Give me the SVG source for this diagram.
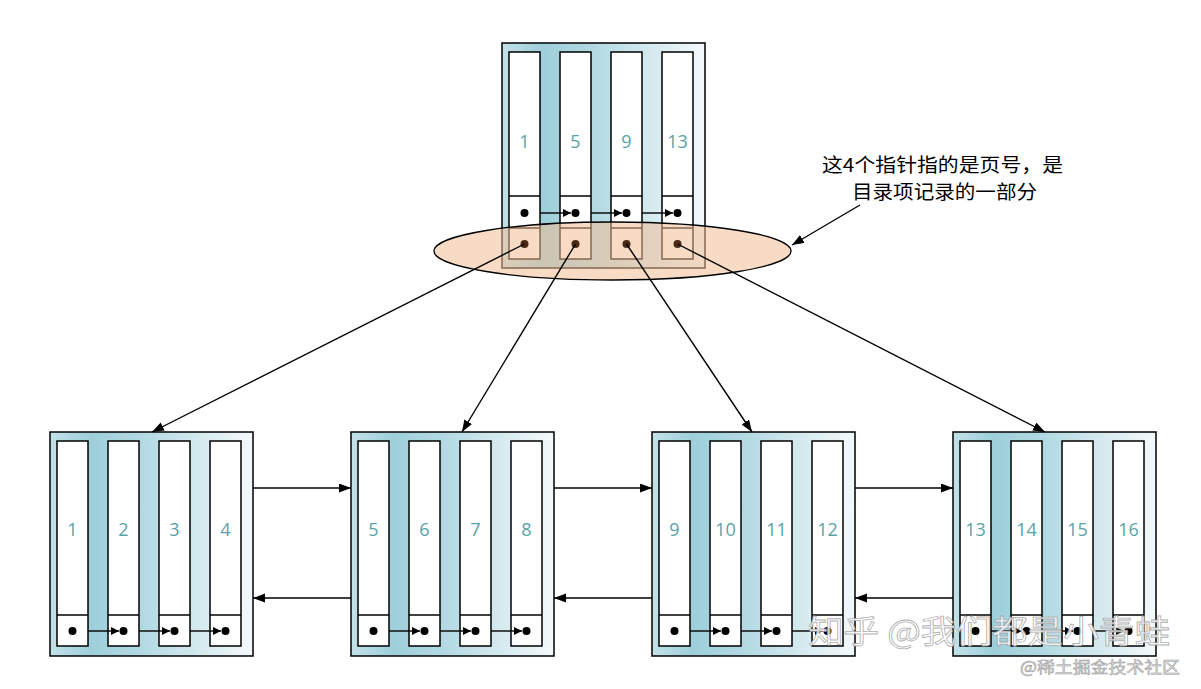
<svg xmlns="http://www.w3.org/2000/svg" width="1201" height="689" viewBox="0 0 1201 689">
<defs>
<linearGradient id="bg" x1="0" y1="0" x2="1" y2="0">
<stop offset="0" stop-color="#C3E1E8"/>
<stop offset="0.2" stop-color="#9DCFDA"/>
<stop offset="0.45" stop-color="#B2D9E2"/>
<stop offset="0.72" stop-color="#D3E9EE"/>
<stop offset="1" stop-color="#F4F9FB"/>
</linearGradient>
<marker id="big" markerUnits="userSpaceOnUse" markerWidth="13" markerHeight="10" refX="12" refY="4.5" orient="auto"><path d="M0,0 L12,4.5 L0,9 z" fill="#000"/></marker>
<marker id="small" markerUnits="userSpaceOnUse" markerWidth="9" markerHeight="9" refX="8" refY="4" orient="auto"><path d="M0,0 L8,4 L0,8 z" fill="#000"/></marker>
<g id="col-top"><rect x="0" y="0" width="31" height="207" class="col"/><line x1="0" y1="144" x2="31" y2="144" class="ln"/><line x1="0" y1="176" x2="31" y2="176" class="ln"/></g>
<g id="col-bot"><rect x="0" y="0" width="31" height="205" class="col"/><line x1="0" y1="174" x2="31" y2="174" class="ln"/></g>
</defs>
<style>
.frame{fill:url(#bg);stroke:#000;stroke-width:1.5}
.col{fill:#fff;stroke:#000;stroke-width:1.5}
.ln{stroke:#000;stroke-width:1.5}
.num{font-family:"Open Sans","Liberation Sans",sans-serif;font-size:18px;fill:#5AA2A6;text-anchor:middle}
.dot{fill:#000}
.pdot{fill:#4A2A14}
.lst{stroke:#000;stroke-width:1.4;fill:none;marker-end:url(#small)}
.conn{stroke:#000;stroke-width:1.4;fill:none;marker-end:url(#big)}
.note{font-family:"Noto Sans CJK SC",sans-serif;font-size:19px;fill:#000}
</style>
<rect width="1201" height="689" fill="#fff"/>

<g id="node-top">
<rect class="frame" x="502" y="43" width="203" height="225"/>
<use href="#col-top" x="509" y="52"/><use href="#col-top" x="560" y="52"/><use href="#col-top" x="611" y="52"/><use href="#col-top" x="662" y="52"/>
<text class="num" x="524.5" y="147.5">1</text><text class="num" x="575.5" y="147.5">5</text><text class="num" x="626.5" y="147.5">9</text><text class="num" x="677.5" y="147.5">13</text>
<circle class="dot" cx="524.5" cy="213" r="4"/><circle class="dot" cx="575.5" cy="213" r="4"/><circle class="dot" cx="626.5" cy="213" r="4"/><circle class="dot" cx="677.5" cy="213" r="4"/>
<path class="lst" d="M540,213 H571"/><path class="lst" d="M591,213 H622"/><path class="lst" d="M642,213 H673"/>
</g>

<g id="pointer-highlight">
<ellipse cx="612.5" cy="251" rx="178.5" ry="29" fill="#F0BE95" fill-opacity="0.55" stroke="#000" stroke-width="1.3"/>
<circle class="pdot" cx="524.5" cy="244" r="4"/><circle class="pdot" cx="575.5" cy="244" r="4"/><circle class="pdot" cx="626.5" cy="244" r="4"/><circle class="pdot" cx="677.5" cy="244" r="4"/>
</g>

<g id="node-1">
<rect class="frame" x="50" y="432" width="203" height="224"/>
<use href="#col-bot" x="57" y="441"/><use href="#col-bot" x="108" y="441"/><use href="#col-bot" x="159" y="441"/><use href="#col-bot" x="210" y="441"/>
<text class="num" x="72.5" y="535.5">1</text><text class="num" x="123.5" y="535.5">2</text><text class="num" x="174.5" y="535.5">3</text><text class="num" x="225.5" y="535.5">4</text>
<circle class="dot" cx="72.5" cy="631" r="4"/><circle class="dot" cx="123.5" cy="631" r="4"/><circle class="dot" cx="174.5" cy="631" r="4"/><circle class="dot" cx="225.5" cy="631" r="4"/>
<path class="lst" d="M88,631 H119"/><path class="lst" d="M139,631 H170"/><path class="lst" d="M190,631 H221"/>
</g>

<g id="node-2">
<rect class="frame" x="351" y="432" width="203" height="224"/>
<use href="#col-bot" x="358" y="441"/><use href="#col-bot" x="409" y="441"/><use href="#col-bot" x="460" y="441"/><use href="#col-bot" x="511" y="441"/>
<text class="num" x="373.5" y="535.5">5</text><text class="num" x="424.5" y="535.5">6</text><text class="num" x="475.5" y="535.5">7</text><text class="num" x="526.5" y="535.5">8</text>
<circle class="dot" cx="373.5" cy="631" r="4"/><circle class="dot" cx="424.5" cy="631" r="4"/><circle class="dot" cx="475.5" cy="631" r="4"/><circle class="dot" cx="526.5" cy="631" r="4"/>
<path class="lst" d="M389,631 H420"/><path class="lst" d="M440,631 H471"/><path class="lst" d="M491,631 H522"/>
</g>

<g id="node-3">
<rect class="frame" x="652" y="432" width="203" height="224"/>
<use href="#col-bot" x="659" y="441"/><use href="#col-bot" x="710" y="441"/><use href="#col-bot" x="761" y="441"/><use href="#col-bot" x="812" y="441"/>
<text class="num" x="674.5" y="535.5">9</text><text class="num" x="725.5" y="535.5">10</text><text class="num" x="776.5" y="535.5">11</text><text class="num" x="827.5" y="535.5">12</text>
<circle class="dot" cx="674.5" cy="631" r="4"/><circle class="dot" cx="725.5" cy="631" r="4"/><circle class="dot" cx="776.5" cy="631" r="4"/><circle class="dot" cx="827.5" cy="631" r="4"/>
<path class="lst" d="M690,631 H721"/><path class="lst" d="M741,631 H772"/><path class="lst" d="M792,631 H823"/>
</g>

<g id="node-4">
<rect class="frame" x="953" y="432" width="203" height="224"/>
<use href="#col-bot" x="960" y="441"/><use href="#col-bot" x="1011" y="441"/><use href="#col-bot" x="1062" y="441"/><use href="#col-bot" x="1113" y="441"/>
<text class="num" x="975.5" y="535.5">13</text><text class="num" x="1026.5" y="535.5">14</text><text class="num" x="1077.5" y="535.5">15</text><text class="num" x="1128.5" y="535.5">16</text>
<circle class="dot" cx="975.5" cy="631" r="4"/><circle class="dot" cx="1026.5" cy="631" r="4"/><circle class="dot" cx="1077.5" cy="631" r="4"/><circle class="dot" cx="1128.5" cy="631" r="4"/>
<path class="lst" d="M991,631 H1022"/><path class="lst" d="M1042,631 H1073"/><path class="lst" d="M1093,631 H1124"/>
</g>

<g id="connectors">
<path class="conn" d="M524.5,244 L152,432"/>
<path class="conn" d="M575.5,244 L462,432"/>
<path class="conn" d="M626.5,244 L752,432"/>
<path class="conn" d="M677.5,244 L1045,432"/>
<path class="conn" d="M253,488 H351"/><path class="conn" d="M351,598 H253"/>
<path class="conn" d="M554,488 H652"/><path class="conn" d="M652,598 H554"/>
<path class="conn" d="M855,488 H953"/><path class="conn" d="M953,598 H855"/>
<path class="conn" d="M860,205 L792,245"/>
</g>

<g id="annotation">
<text class="note" x="822" y="172" textLength="241" lengthAdjust="spacingAndGlyphs">这4个指针指的是页号，是</text>
<text class="note" x="852" y="199" textLength="185" lengthAdjust="spacingAndGlyphs">目录项记录的一部分</text>
</g>

<g id="watermark" font-family="Noto Sans CJK SC, sans-serif">
<text x="808" y="643" font-size="32" textLength="362" lengthAdjust="spacingAndGlyphs" fill="#fff" fill-opacity="0.85" stroke="#999" stroke-width="0.8" stroke-opacity="0.8">知乎 @我们都是小青蛙</text>
<text x="1020" y="673" font-size="16" textLength="160" lengthAdjust="spacingAndGlyphs" fill="#ddd" stroke="#999" stroke-width="0.5">@稀土掘金技术社区</text>
</g>
</svg>
